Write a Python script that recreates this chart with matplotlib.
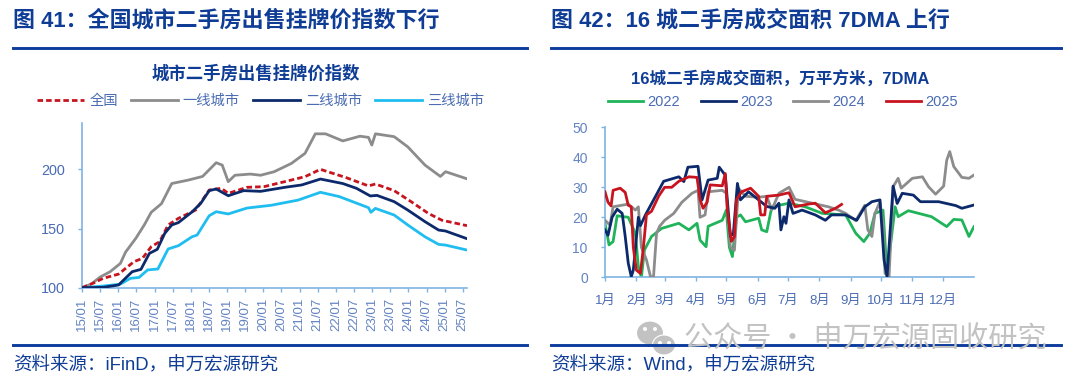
import matplotlib
matplotlib.use("Agg")
import matplotlib.pyplot as plt
from matplotlib.patches import Ellipse, Polygon

plt.rcParams['font.family'] = ['Liberation Sans', 'Noto Sans CJK SC', 'DejaVu Sans']

# ---------- left chart data (x = months since 2015/01) ----------
left_ticks = ["15/01","15/07","16/01","16/07","17/01","17/07","18/01","18/07","19/01","19/07","20/01",
              "20/07","21/01","21/07","22/01","22/07","23/01","23/07","24/01","24/07","25/01","25/07"]
t1_m = [0,3,6,9.3,12.7,14.4,17.8,20.6,22.9,26.3,29.7,35.3,39.9,44.4,46.4,48.4,50.6,55.7,59.1,63.6,69.3,73.8,77.2,80.6,86.3,92,94.8,95.9,97.1,103.3,107.8,113.5,118.6,120.3,127.4]
t1_v = [100,103,109,113.5,120.5,130,141.7,153,163.7,171,188,191,194,205.6,203.6,189.6,195,196,195,198,205,213.5,230,230,224,228,227,220.5,230,227.6,219,203.6,194,198,192]
all_m = [0,3.6,7,12.1,17.2,20,22.9,25.7,28.5,31.9,37.6,42.1,46.1,48.4,54.6,60.3,67.1,73.8,78.9,87.4,94.8,97.1,103.3,108.9,114.6,119.1,127.4]
all_v = [100,103.7,107.9,111.5,122,124.8,134.6,138.9,153,158.6,165.6,182.5,184,179.7,184.8,185.4,189.6,193.8,200,193,186,187.6,182,172.7,162.8,157,152.4]
t2_m = [0,7,12.1,16.6,19.5,22.3,24.9,27.4,29.7,31.9,36.4,39.3,42.1,44.4,48.4,53.5,59.1,67.1,72.7,78.9,86.3,90.8,95.4,97.6,103.3,107.8,113.5,118,120.3,127.4]
t2_v = [100,100.3,102.3,113.5,115.5,129,132.4,146,153,155,164,171.3,182,183.4,177.7,182,181.4,184.8,186.8,191.8,188,184,177.5,178,172.7,165.6,155.8,148.7,147.9,141.4]
t3_m = [0,7,12.7,16,18.9,21.7,25.1,28.5,31.9,36.4,38.1,42.1,44.4,48.4,54.6,62.5,71.5,78.9,85.1,94.8,95.6,97.1,103.3,107.8,113.5,118,120.3,127.4]
t3_v = [100,101.4,103,107.9,108.7,115,115.8,132.7,135.5,143,144.5,160.8,164.2,162.3,167.3,169.6,174,180.6,177,167.6,163.7,167,161.4,153,143,136.6,136,131.8]

# ---------- right chart data (x = day of year) ----------
month_days = [0,31,59,90,120,151,181,212,243,273,304,334]
month_labels = ["1月","2月","3月","4月","5月","6月","7月","8月","9月","10月","11月","12月"]
y22_d = [0,4,8,12,23,30,33,36,39,46,56,73,83,91,94,100,102,116,120,123,126,130,134,139,152,155,160,165,182,198,215,238,248,256,262,267,275,279,287,290,300,323,338,345,353,360,365]
y22_v = [18,10.8,11.9,20.5,20,14.7,3.5,0,9.1,13.6,16.3,18,15.8,18,12.4,10.2,17,19,22.4,10,6.9,20,20.8,18.5,19.7,15.8,15.2,23.5,24.7,23.5,21.3,20.8,14.7,11.9,14.7,21.3,22.4,1.3,23.5,20.2,22.2,20.2,16.9,19.3,19.1,13.6,16.9]
y23_d = [0,3,7,12,17,20,23,26,28,33,35,40,50,58,73,78,82,92,96,102,111,113,119,124,127,131,134,142,152,160,168,172,174,177,179,182,186,195,208,218,224,238,249,257,264,272,276,279,285,289,294,305,312,330,347,353,365]
y23_v = [15.8,14,20,22.7,21.3,13.6,4.7,0.2,2.4,20,17.2,20.8,27,32,33.5,31.9,36.7,37,25.8,32.4,33,36.7,34,13.6,14.7,31.3,25.8,28.5,25.8,23.6,23,24.7,15.8,20.2,18,25.8,21.3,22.4,20.8,19,20.8,20.8,19,23.5,25.2,25.8,5.8,0.2,30.4,24.6,28,27.4,25.2,25.2,23.9,23,24.1]
y24_d = [0,5,8,23,30,33,36,41,45,48,51,54,59,68,76,86,92,94,99,102,116,120,124,128,132,139,152,160,165,172,182,188,205,221,231,238,248,257,260,264,267,272,275,277,281,285,290,293,304,314,320,327,335,338,341,345,353,360,365]
y24_v = [19,17.4,23.5,24.4,22.4,23.5,10,5.8,0.2,0.2,14.7,17,19,21.3,25,28,29,20,20.8,28.5,29,28,10,9,29.7,27,26.7,27,22.5,28,30,26,24.7,23.5,22.4,21.3,18.9,24,15.8,13.6,21.3,25.2,16.9,1.3,0.2,30.2,33,29.7,33,33.5,30.2,27.7,30.4,39,41.9,36.9,33.3,33,34.1]
y25_d = [0,3,6,8,15,20,23,26,28,31,35,38,41,46,53,59,66,73,83,91,94,97,101,104,116,119,121,125,128,130,135,144,152,154,158,160,172,182,188,201,208,218,228,234]
y25_v = [28.5,25,23.8,29,29.7,28.3,24,23.5,10,2.4,1.3,10,20.8,22,27,30,30,32,33.5,33.3,26,23,25,30.8,30.5,34.6,22.4,12,13.5,25.8,28.5,29.7,27,20.8,20.8,27,27.4,28.2,23.5,24.4,24.7,21.5,23,24.3]

W, H = 1080, 384
NAVY = "#0f3d96"
TXT = "#4a6cb3"
TXT2 = "#6383c2"
AX = "#7fb3e3"
fig = plt.figure(figsize=(W/100, H/100), dpi=100, facecolor="white")

def axes_px(l, t, r, b):
    return fig.add_axes([l/W, 1-b/H, (r-l)/W, (b-t)/H])
def ftext(x, y, s, **k):
    return fig.text(x/W, 1-y/H, s, **k)
def rule(x0, x1, y, lw=2.1):
    fig.add_artist(plt.Line2D([x0/W, x1/W], [1-y/H, 1-y/H], color="#0c3c9c", lw=lw, transform=fig.transFigure))

# watermark first, rules go over it
WM = "#c2c2c2"
ftext(684, 340, "公众号 · 申万宏源固收研究", color=WM, va="center", ha="left", fontsize=21,
      family=['Noto Sans CJK SC', 'DejaVu Sans'])
for (cx, cy, w, h) in [(650, 333, 27, 24), (664, 345, 23, 20)]:
    fig.add_artist(Ellipse((cx/W, 1-cy/H), w/W, h/H, transform=fig.transFigure, fc=WM, ec="white", lw=0.8))
for (cx, cy) in [(645, 329), (655, 329), (660, 343), (669, 343)]:
    fig.add_artist(Ellipse((cx/W, 1-cy/H), 4/W, 4/H, transform=fig.transFigure, fc="white", ec="none"))

# headers and footers
hd = dict(color=NAVY, fontweight="bold", fontsize=15.8, va="center", ha="left")
ftext(13, 21, "图 41：全国城市二手房出售挂牌价指数下行", **hd)
ftext(551, 21, "图 42：16 城二手房成交面积 7DMA 上行", **hd)
rule(13, 527, 47.5); rule(551, 1061, 47.5)
rule(13, 527, 345); rule(551, 1061, 345)
ft = dict(color=NAVY, fontsize=13.3, va="center", ha="left")
ftext(13, 366, "资料来源：iFinD，申万宏源研究", **ft)
ftext(551, 366, "资料来源：Wind，申万宏源研究", **ft)

def style(ax):
    for s in ("top", "right"):
        ax.spines[s].set_visible(False)
    for s in ("left", "bottom"):
        ax.spines[s].set_color(AX)
        ax.spines[s].set_linewidth(1.2)
    ax.patch.set_alpha(0)

LW = 2.0
# left chart
a1 = axes_px(82, 122.7, 467, 287.7)
a1.plot(t1_m, t1_v, color="#8c8c8c", lw=LW, label="一线城市", zorder=2)
a1.plot(t3_m, t3_v, color="#1fbdf0", lw=LW, label="三线城市", zorder=3)
a1.plot(all_m, all_v, color="#c8141e", lw=LW, ls=(0, (2, 1.1)), label="全国", zorder=4)
a1.plot(t2_m, t2_v, color="#0c2a6b", lw=LW, label="二线城市", zorder=5)
a1.set_xlim(0, 127.4); a1.set_ylim(100, 239.4)
a1.set_xticks(range(0, 127, 6))
a1.set_xticklabels(left_ticks, rotation=90, fontsize=9.5, color=TXT2)
a1.set_yticks([100, 150, 200])
a1.set_yticklabels(["100", "150", "200"], fontsize=10.4, color=TXT)
a1.tick_params(axis="x", length=3, width=1, color=AX, pad=4.4)
a1.tick_params(axis="y", length=3, width=1, color=AX, pad=9.4)
style(a1)
ftext(256, 73, "城市二手房出售挂牌价指数", color=NAVY, fontweight="bold", fontsize=12.5, ha="center", va="center")
h = {l.get_label(): l for l in a1.get_lines()}
a1.legend([h[k] for k in ("全国", "一线城市", "二线城市", "三线城市")], ["全国", "一线城市", "二线城市", "三线城市"],
          ncol=4, frameon=False, loc="center", bbox_to_anchor=(260.5/W, 1-101/H), bbox_transform=fig.transFigure,
          fontsize=10.3, labelcolor=TXT, handlelength=3.3, columnspacing=0.9, handletextpad=0.35, borderpad=0)

# right chart
a2 = axes_px(605, 127.3, 974, 277.3)
l22, = a2.plot(y22_d, y22_v, color="#1fb45a", lw=LW, label="2022", zorder=2)
l24, = a2.plot(y24_d, y24_v, color="#8c8c8c", lw=LW, label="2024", zorder=3)
l23, = a2.plot(y23_d, y23_v, color="#0c2a6b", lw=LW, label="2023", zorder=4)
l25, = a2.plot(y25_d, y25_v, color="#c8141e", lw=LW, label="2025", zorder=5)
a2.set_xlim(0, 365); a2.set_ylim(0, 50)
a2.set_xticks(month_days); a2.set_xticklabels(month_labels, fontsize=9.5, color=TXT)
a2.set_yticks(range(0, 51, 10))
a2.set_yticklabels([str(v) for v in range(0, 51, 10)], fontsize=10, color=TXT2)
a2.tick_params(axis="x", length=3, width=1, color=AX, pad=10)
a2.tick_params(axis="y", length=3, width=1, color=AX, pad=9.4)
style(a2)
ftext(780, 79, "16城二手房成交面积，万平方米，7DMA", color=NAVY, fontweight="bold", fontsize=12, ha="center", va="center")
a2.legend([l22, l23, l24, l25], ["2022", "2023", "2024", "2025"],
          ncol=4, frameon=False, loc="center", bbox_to_anchor=(783/W, 1-102/H), bbox_transform=fig.transFigure,
          fontsize=10.5, labelcolor=TXT, handlelength=2.4, columnspacing=1.4, handletextpad=0.3, borderpad=0)

fig.savefig("out.png", dpi=100)
